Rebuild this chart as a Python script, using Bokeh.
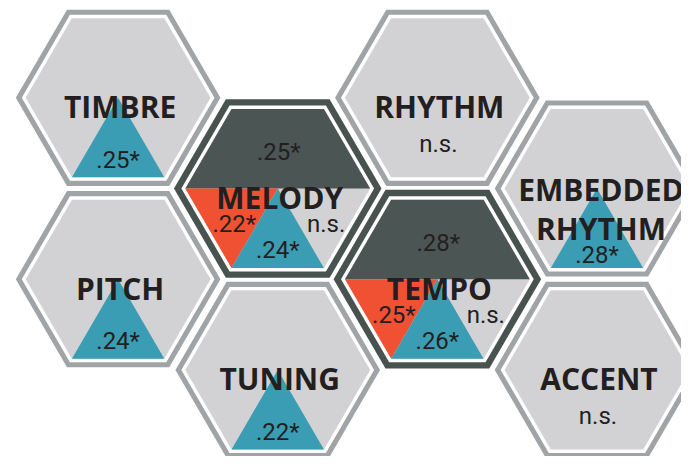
import numpy as np
from bokeh.plotting import figure
from bokeh.models import Range1d
from bokeh.core.properties import value
from bokeh.embed import file_html
from bokeh.resources import INLINE

# ---------------- data ----------------
labels = ["TIMBRE", "PITCH", "MELODY", "TUNING", "RHYTHM", "TEMPO", "EMBEDDED\nRHYTHM", "ACCENT"]
grid_col = [0, 0, 1, 1, 2, 2, 3, 3]
grid_row = [0, 2, 1, 3, 0, 2, 1, 3]
teal_values = [".25*", ".24*", ".24*", ".22*", "n.s.", ".26*", ".28*", "n.s."]
highlighted = ["MELODY", "TEMPO"]
top_values = [".25*", ".28*"]     # dark upper half
left_values = [".22*", ".25*"]    # red left triangle
right_values = ["n.s.", "n.s."]   # grey right triangle

# ---------------- style ----------------
C_BORDER = "#a1a4a6"
C_DARK_BORDER = "#48524f"
C_FILL = "#d2d2d4"
C_DARK = "#4b5553"
C_RED = "#f05133"
C_TEAL = "#3a9db3"
C_TEXT = "#231f20"
LABEL_FONT = value("Open Sans")
VAL_FONT = value("Roboto")

X0, DX = 119.0, 161.5
Y0, DY = 99.0, 92.3
R_OUT, R_OUT_DARK, R_WHITE, R_IN = 103.5, 105.0, 97.5, 93.5

def centre(i):
    return X0 + DX * grid_col[i], Y0 + DY * grid_row[i]

def vert(cx, cy, R, k):
    a = np.deg2rad(60 * k)
    return cx + R * np.cos(a), cy + R * np.sin(a)

def hexagon(cx, cy, R):
    pts = [vert(cx, cy, R, k) for k in range(6)]
    return [q[0] for q in pts], [q[1] for q in pts]

p = figure(width=681, height=456, x_range=Range1d(0, 689), y_range=Range1d(464, 0),
           output_backend="svg", toolbar_location=None, min_border=0)
p.axis.visible = False
p.grid.visible = False
p.outline_line_color = None
p.background_fill_color = "white"

n = len(labels)
outer_xs, outer_ys, outer_c = [], [], []
white_xs, white_ys = [], []
fill_xs, fill_ys = [], []
for i in range(n):
    cx, cy = centre(i)
    dark = labels[i] in highlighted
    xs, ys = hexagon(cx, cy, R_OUT_DARK if dark else R_OUT)
    outer_xs.append(xs); outer_ys.append(ys); outer_c.append(C_DARK_BORDER if dark else C_BORDER)
    xs, ys = hexagon(cx, cy, R_WHITE)
    white_xs.append(xs); white_ys.append(ys)
    xs, ys = hexagon(cx, cy, R_IN)
    fill_xs.append(xs); fill_ys.append(ys)

p.patches(outer_xs, outer_ys, fill_color=outer_c, line_color=None)
p.patches(white_xs, white_ys, fill_color="white", line_color=None)
p.patches(fill_xs, fill_ys, fill_color=C_FILL, line_color=None)

# coloured segments
seg_xs, seg_ys, seg_c = [], [], []
val_x, val_y, val_t = [], [], []
for i in range(n):
    cx, cy = centre(i)
    if labels[i] in highlighted:
        j = highlighted.index(labels[i])
        pts = [vert(cx, cy, R_IN, k) for k in (3, 4, 5, 0)]
        seg_xs.append([q[0] for q in pts]); seg_ys.append([q[1] for q in pts]); seg_c.append(C_DARK)
        pts = [vert(cx, cy, R_IN, 3), (cx, cy), vert(cx, cy, R_IN, 2)]
        seg_xs.append([q[0] for q in pts]); seg_ys.append([q[1] for q in pts]); seg_c.append(C_RED)
        val_x += [cx + 1, cx - 44, cx + 49]
        val_y += [cy - 37, cy + 36, cy + 36]
        val_t += [top_values[j], left_values[j], right_values[j]]
    if teal_values[i] != "n.s.":
        pts = [(cx, cy), vert(cx, cy, R_IN, 2), vert(cx, cy, R_IN, 1)]
        seg_xs.append([q[0] for q in pts]); seg_ys.append([q[1] for q in pts]); seg_c.append(C_TEAL)
        extra = 5 if "\n" in labels[i] else 0
        val_x.append(cx); val_y.append(cy + 63 + extra); val_t.append(teal_values[i])
    else:
        val_x.append(cx + 1); val_y.append(cy + 47); val_t.append(teal_values[i])

p.patches(seg_xs, seg_ys, fill_color=seg_c, line_color=None)

# labels
lx, ly, lt = [], [], []
for i in range(n):
    cx, cy = centre(i)
    lines = labels[i].split("\n")
    if len(lines) == 1:
        lx.append(cx + 2); ly.append(cy + 9); lt.append(lines[0])
    else:
        for k, line in enumerate(lines):
            lx.append(cx + 4); ly.append(cy + 1 + 40 * k); lt.append(line)

p.text(x=val_x, y=val_y, text=val_t, text_font=VAL_FONT,
       text_font_size="24px", text_color=C_TEXT, text_align="center", text_baseline="alphabetic")
p.text(x=lx, y=ly, text=lt, text_font=LABEL_FONT, text_font_style="bold",
       text_font_size="30px", text_color=C_TEXT, text_align="center", text_baseline="alphabetic")

open("out.html", "w").write(file_html(p, INLINE))
